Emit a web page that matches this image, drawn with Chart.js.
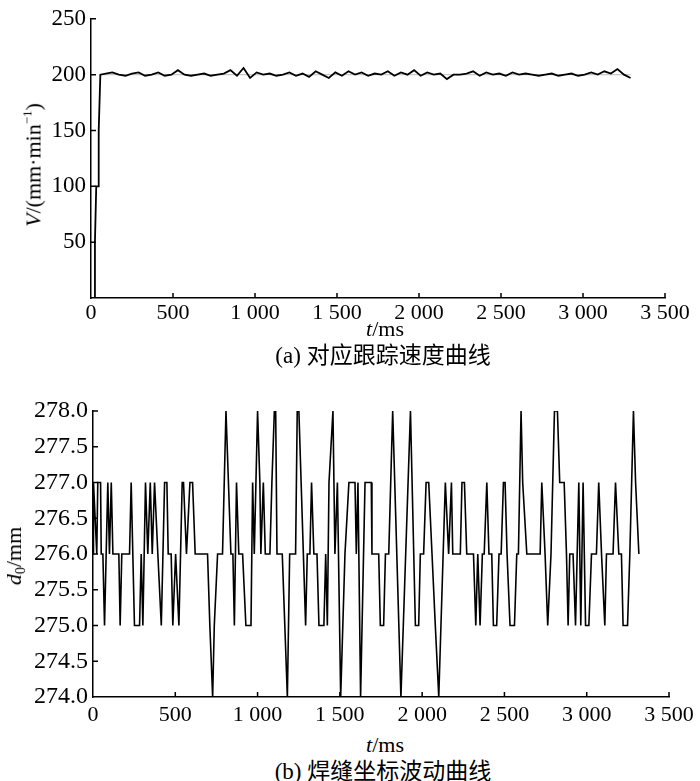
<!DOCTYPE html>
<html>
<head>
<meta charset="utf-8">
<script src="https://cdn.jsdelivr.net/npm/chart.js@4"></script>
<style>
  body { margin: 0; background: #fff; width: 700px; height: 781px; position: relative; overflow: hidden; }
  canvas { position: absolute; left: 0; }
  .lbl { position: absolute; white-space: nowrap; color: #000; font-family: 'Liberation Serif', 'Noto Sans CJK SC', serif; font-size: 22px; transform: translate(-50%, -50%); }
  .rot { transform: translate(-50%, -50%) rotate(-90deg); }
  .cap { font-family: 'Liberation Serif', 'Noto Sans CJK SC', serif; font-size: 23px; }
  sup { font-size: 13px; vertical-align: 9px; }
  sub { font-size: 14px; vertical-align: -4px; }
</style>
</head>
<body>
<canvas id="speedChart" style="top:0" width="700" height="331"></canvas>
<canvas id="seamChart" style="top:390px" width="700" height="340"></canvas>

<div class="lbl rot" style="left:33px; top:165px"><i>V</i>/(mm·min<sup>−1</sup>)</div>
<div class="lbl" style="left:385px; top:329px"><i>t</i>/ms</div>
<div class="lbl cap" style="left:383px; top:353px">(a) 对应跟踪速度曲线</div>

<div class="lbl rot" style="left:15px; top:556px"><i>d</i><sub>0</sub>/mm</div>
<div class="lbl" style="left:385px; top:745px"><i>t</i>/ms</div>
<div class="lbl cap" style="left:383px; top:769px">(b) 焊缝坐标波动曲线</div>

<script>
// ---- data ----
// (a) tracking speed, t in ms, V in mm/min
const speedTimes = [0, 22, 24, 32, 44, 47, 57,
  90, 130, 170, 210, 250, 290, 330, 370, 410, 450, 490, 530, 570, 610, 650, 690, 730, 770, 810,
  850, 890, 930, 970, 1010, 1050, 1090, 1130, 1170, 1210, 1250, 1290, 1330, 1370, 1410, 1450,
  1490, 1530, 1570, 1610, 1650, 1690, 1730, 1770, 1810, 1850, 1890, 1930, 1970, 2010, 2050,
  2090, 2130, 2170, 2210, 2250, 2290, 2330, 2370, 2410, 2450, 2490, 2530, 2570, 2610, 2650,
  2690, 2730, 2770, 2810, 2850, 2890, 2930, 2970, 3010, 3050, 3090, 3130, 3170, 3210, 3250, 3290];
const speedValues = [0, 0, 50, 100, 100, 150, 200,
  201, 202, 200, 199, 201, 202, 199, 200, 202, 199, 200, 204, 200, 199, 200, 201, 199, 200, 201,
  204, 199, 206, 197, 202, 200, 201, 199, 200, 202, 199, 201, 198, 203, 200, 197,
  202, 199, 203, 200, 202, 199, 201, 200, 203, 199, 202, 200, 204, 199, 202,
  200, 201, 196, 200, 200, 201, 203, 199, 202, 200, 201, 199, 202, 200, 201,
  200, 199, 200, 201, 199, 200, 201, 199, 200, 202, 200, 203, 201, 205, 200, 197];
const speedSetpoint = 200;
const speedTicksX = [0, 500, 1000, 1500, 2000, 2500, 3000, 3500];
const speedTicksY = [0, 50, 100, 150, 200, 250];

// (b) seam coordinate d0, t in ms, d0 in mm
const seamTimes = [0, 3, 23, 29, 46, 50, 60, 70, 90, 100, 111, 121, 157, 165, 175, 222, 232, 252,
  283, 293, 303, 319, 333, 348, 360, 374, 394, 415, 435, 449, 457, 475, 485, 502, 522, 542,
  550, 568, 589, 605, 621, 696, 710, 727, 737, 757, 787, 808, 838, 850, 859, 872, 886, 909,
  929, 960, 970, 980, 1000, 1014, 1020, 1035, 1047, 1075, 1087, 1102, 1110, 1118, 1150, 1181,
  1195, 1231, 1241, 1251, 1292, 1302, 1318, 1328, 1342, 1361, 1373, 1403, 1414, 1424, 1434,
  1458, 1470, 1485, 1505, 1531, 1555, 1592, 1600, 1610, 1626, 1653, 1691, 1695, 1736, 1746,
  1766, 1777, 1797, 1821, 1871, 1929, 1959, 1979, 1989, 2009, 2024, 2040, 2060, 2080, 2101,
  2141, 2161, 2178, 2186, 2232, 2242, 2257, 2271, 2312, 2326, 2338, 2352, 2366, 2377, 2393,
  2406, 2423, 2433, 2453, 2467, 2480, 2494, 2504, 2516, 2534, 2561, 2575, 2585, 2601, 2611,
  2636, 2717, 2727, 2747, 2763, 2783, 2804, 2822, 2836, 2863, 2877, 2887, 2897, 2917, 2932,
  2952, 2964, 2978, 2993, 3013, 3029, 3059, 3073, 3090, 3110, 3120, 3160, 3175, 3195, 3211,
  3221, 3248, 3262, 3284, 3297, 3317];
const seamValues = [276, 277, 276, 277, 277, 276, 276, 275, 277, 276, 277, 276, 276, 275, 276, 276, 277, 275,
  275, 276, 275, 277, 276, 277, 276, 277, 276, 275, 277, 277, 276, 276, 275, 276, 275, 277,
  277, 276, 277, 277, 276, 276, 275, 274, 275, 276, 276, 278, 276, 276, 275, 277, 276, 276,
  275, 275, 277, 276, 278, 277, 276, 277, 276, 276, 277, 278, 278, 276, 276, 274,
  276, 276, 278, 278, 275, 276, 276, 277, 276, 276, 275, 275, 276, 275, 277,
  278, 276, 277, 274, 276, 277, 277, 276, 277, 274, 277, 277, 276, 276, 275,
  275, 276, 276, 278, 274, 278, 275, 275, 276, 276, 277, 277, 276, 275, 274,
  277, 276, 277, 276, 276, 277, 277, 276, 276, 275, 276, 275, 276, 276, 277,
  276, 276, 275, 275, 276, 276, 277, 277, 276, 275, 275, 276, 276, 278, 277,
  276, 276, 277, 276, 275, 276, 278, 278, 277, 277, 276, 275, 276, 276, 275,
  277, 275, 277, 275, 275, 276, 276, 277, 276, 275, 276, 276, 277, 276, 276,
  275, 275, 276, 278, 277, 276];
const seamTicksX = [0, 500, 1000, 1500, 2000, 2500, 3000, 3500];
const seamTicksY = [274, 274.5, 275, 275.5, 276, 276.5, 277, 277.5, 278];

// ---- helpers ----
const serif = "'Liberation Serif', serif";
const fmtThousands = v => v >= 1000 ? Math.floor(v / 1000) + ' ' + String(v % 1000).padStart(3, '0') : String(v);
const toPoints = (xs, ys) => xs.map((x, i) => ({ x, y: ys[i] }));

// short tick marks pointing into the plot, like the original figure
const inwardTicks = {
  id: 'inwardTicks',
  afterDraw(chart) {
    const { ctx, chartArea } = chart;
    const sx = chart.scales.x, sy = chart.scales.y;
    ctx.save();
    ctx.strokeStyle = '#000';
    ctx.lineWidth = 1.5;
    ctx.beginPath();
    sx.ticks.forEach(t => {
      if (t.value === sx.min) return;
      const px = sx.getPixelForValue(t.value);
      ctx.moveTo(px, chartArea.bottom);
      ctx.lineTo(px, chartArea.bottom - 5);
    });
    sy.ticks.forEach(t => {
      if (t.value === sy.min) return;
      const py = sy.getPixelForValue(t.value);
      ctx.moveTo(chartArea.left, py);
      ctx.lineTo(chartArea.left + 5, py);
    });
    ctx.stroke();
    ctx.restore();
  }
};

function axisX(ticksList, height, pad) {
  return {
    type: 'linear', min: ticksList[0], max: ticksList[ticksList.length - 1],
    afterBuildTicks: s => { s.ticks = ticksList.map(v => ({ value: v })); },
    afterFit: s => { s.height = height; },
    grid: { display: false, drawTicks: false },
    border: { display: true, color: '#000', width: 1.5 },
    ticks: { color: '#000', font: { family: serif, size: 22 }, padding: pad, maxRotation: 0, autoSkip: false, callback: v => fmtThousands(v) }
  };
}

function axisY(ticksList, width, size, fmt) {
  return {
    type: 'linear', min: ticksList[0], max: ticksList[ticksList.length - 1],
    afterBuildTicks: s => { s.ticks = ticksList.map(v => ({ value: v })); },
    afterFit: s => { s.width = width; },
    grid: { display: false, drawTicks: false },
    border: { display: true, color: '#000', width: 1.5 },
    ticks: { color: '#000', font: { family: serif, size }, padding: 5, autoSkip: false, callback: fmt }
  };
}

// ---- (a) tracking speed ----
new Chart(document.getElementById('speedChart'), {
  type: 'line',
  data: {
    datasets: [{
      label: 'V',
      data: toPoints(speedTimes, speedValues),
      borderColor: '#000', borderWidth: 1.8, pointRadius: 0, tension: 0
    }, {
      label: 'setpoint',
      data: [{ x: speedTimes[6], y: speedSetpoint }, { x: speedTimes[speedTimes.length - 1], y: speedSetpoint }],
      borderColor: '#c8c8c8', borderWidth: 1.2, pointRadius: 0
    }]
  },
  options: {
    responsive: false, animation: false, events: [],
    layout: { padding: { left: 31, right: 35, top: 11, bottom: 0 } },
    plugins: { legend: { display: false }, tooltip: { enabled: false } },
    scales: {
      x: axisX(speedTicksX, 33, 2),
      y: axisY(speedTicksY, 60, 23, v => v === 0 ? '' : String(v))
    }
  },
  plugins: [inwardTicks]
});

// ---- (b) seam coordinate fluctuation ----
new Chart(document.getElementById('seamChart'), {
  type: 'line',
  data: {
    datasets: [{
      label: 'd0',
      data: toPoints(seamTimes, seamValues),
      borderColor: '#000', borderWidth: 1.6, pointRadius: 0, tension: 0
    }]
  },
  options: {
    responsive: false, animation: false, events: [],
    layout: { padding: { left: 31, right: 31, top: 21, bottom: 0 } },
    plugins: { legend: { display: false }, tooltip: { enabled: false } },
    scales: {
      x: axisX(seamTicksX, 33, 5),
      y: axisY(seamTicksY, 62, 24, v => v.toFixed(1))
    }
  },
  plugins: [inwardTicks]
});
</script>
</body>
</html>
